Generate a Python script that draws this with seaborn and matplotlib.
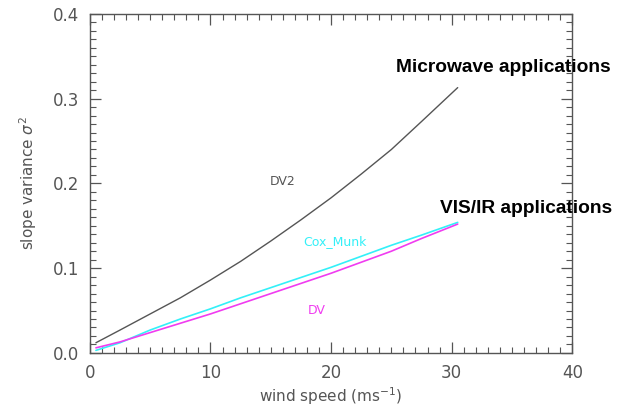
import numpy as np
import pandas as pd
import matplotlib
matplotlib.use("Agg")
import matplotlib.pyplot as plt
from matplotlib.ticker import MultipleLocator
import seaborn as sns

# wind speed (m/s)
wind = [0.5, 2.5, 5, 7.5, 10, 12.5, 15, 17.5, 20, 22.5, 25, 27.5, 30.5]
dv2 = [0.012, 0.027, 0.046, 0.065, 0.086, 0.108, 0.132, 0.157, 0.183, 0.211, 0.240, 0.273, 0.313]
cox_munk = [0.003, 0.012, 0.027, 0.040, 0.052, 0.065, 0.077, 0.089, 0.101, 0.114, 0.127, 0.139, 0.154]
dv = [0.006, 0.013, 0.024, 0.035, 0.046, 0.058, 0.070, 0.082, 0.094, 0.107, 0.120, 0.135, 0.152]

x_ticks = [0, 10, 20, 30, 40]
y_ticks = [0.0, 0.1, 0.2, 0.3, 0.4]

sns.set_theme(style="white")
plt.rcParams['font.family'] = ['DejaVu Sans']

grey = "#555555"
cyan = "#33f0f8"
magenta = "#f03cf0"

fig = plt.figure(figsize=(6.2, 4.08), dpi=100)
ax = fig.add_axes([0.145, 0.135, 0.778, 0.831])

df = pd.DataFrame({"wind": wind, "DV2": dv2, "Cox_Munk": cox_munk, "DV": dv})
sns.lineplot(data=df, x="wind", y="DV2", ax=ax, color=grey, linewidth=1.0)
sns.lineplot(data=df, x="wind", y="Cox_Munk", ax=ax, color=cyan, linewidth=1.2)
sns.lineplot(data=df, x="wind", y="DV", ax=ax, color=magenta, linewidth=1.2)

ax.set_xlim(0, 40)
ax.set_ylim(0, 0.4)
ax.set_xticks(x_ticks)
ax.set_xticklabels([str(t) for t in x_ticks])
ax.set_yticks(y_ticks)
ax.set_yticklabels([f"{t:.1f}" for t in y_ticks])
ax.xaxis.set_minor_locator(MultipleLocator(1))
ax.yaxis.set_minor_locator(MultipleLocator(0.01))
ax.tick_params(which="both", direction="in", top=True, right=True, bottom=True, left=True,
               color=grey, labelcolor=grey, labelsize=12)
ax.tick_params(which="major", length=8, width=0.9, pad=8)
ax.tick_params(which="minor", length=4, width=0.8)
for s in ax.spines.values():
    s.set_color(grey)
    s.set_linewidth(1.0)

ax.set_xlabel("wind speed (ms$^{-1}$)", color=grey, fontsize=11, labelpad=2)
ax.set_ylabel("slope variance $\\sigma^2$", color=grey, fontsize=11, labelpad=10)

ax.text(16.0, 0.202, "DV2", color=grey, fontsize=9, ha="center", va="center")
ax.text(20.3, 0.131, "Cox_Munk", color=cyan, fontsize=9, ha="center", va="center")
ax.text(18.8, 0.050, "DV", color=magenta, fontsize=9, ha="center", va="center")

fig.text(503 / 620, 1 - 68 / 408, "Microwave applications", color="black", fontsize=13.8,
         fontweight="bold", ha="center", va="center", family=["Liberation Sans", "DejaVu Sans"])
fig.text(526 / 620, 1 - 209 / 408, "VIS/IR applications", color="black", fontsize=13.8,
         fontweight="bold", ha="center", va="center", family=["Liberation Sans", "DejaVu Sans"])

fig.savefig("out.png", dpi=100)
